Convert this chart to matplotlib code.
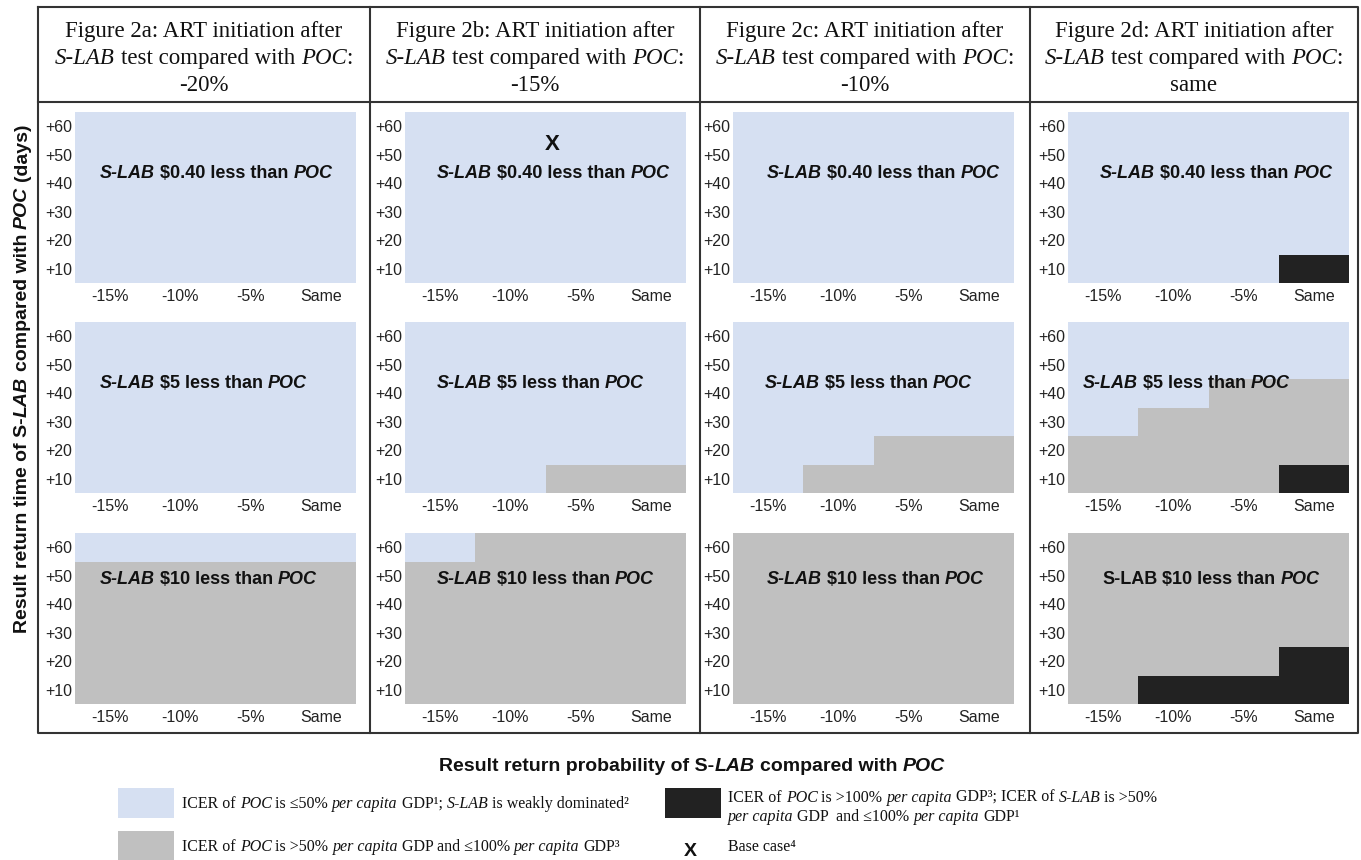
import numpy as np
import matplotlib
matplotlib.use("Agg")
import matplotlib.pyplot as plt
from matplotlib.colors import ListedColormap, BoundaryNorm
from matplotlib.patches import Rectangle

W, H = 1361, 860

SANS = ["Liberation Sans", "DejaVu Sans"]
SERIF = ["Liberation Serif", "DejaVu Serif"]

# ---- data ----
x_labels = ["-15%", "-10%", "-5%", "Same"]
y_labels = ["+10", "+20", "+30", "+40", "+50", "+60"]
fig_ids = ["2a", "2b", "2c", "2d"]
art_drop = ["-20%", "-15%", "-10%", "same"]
cost_gap = ["$0.40", "$5", "$10"]

# 0 = S-LAB weakly dominated, 1 = ICER 50-100% GDP, 2 = ICER >100% GDP
# each grid: rows +60 (top) ... +10 (bottom), columns -15%, -10%, -5%, Same
grid_2a = [
    [[0, 0, 0, 0], [0, 0, 0, 0], [0, 0, 0, 0], [0, 0, 0, 0], [0, 0, 0, 0], [0, 0, 0, 0]],
    [[0, 0, 0, 0], [0, 0, 0, 0], [0, 0, 0, 0], [0, 0, 0, 0], [0, 0, 0, 0], [0, 0, 0, 0]],
    [[0, 0, 0, 0], [1, 1, 1, 1], [1, 1, 1, 1], [1, 1, 1, 1], [1, 1, 1, 1], [1, 1, 1, 1]],
]
grid_2b = [
    [[0, 0, 0, 0], [0, 0, 0, 0], [0, 0, 0, 0], [0, 0, 0, 0], [0, 0, 0, 0], [0, 0, 0, 0]],
    [[0, 0, 0, 0], [0, 0, 0, 0], [0, 0, 0, 0], [0, 0, 0, 0], [0, 0, 0, 0], [0, 0, 1, 1]],
    [[0, 1, 1, 1], [1, 1, 1, 1], [1, 1, 1, 1], [1, 1, 1, 1], [1, 1, 1, 1], [1, 1, 1, 1]],
]
grid_2c = [
    [[0, 0, 0, 0], [0, 0, 0, 0], [0, 0, 0, 0], [0, 0, 0, 0], [0, 0, 0, 0], [0, 0, 0, 0]],
    [[0, 0, 0, 0], [0, 0, 0, 0], [0, 0, 0, 0], [0, 0, 0, 0], [0, 0, 1, 1], [0, 1, 1, 1]],
    [[1, 1, 1, 1], [1, 1, 1, 1], [1, 1, 1, 1], [1, 1, 1, 1], [1, 1, 1, 1], [1, 1, 1, 1]],
]
grid_2d = [
    [[0, 0, 0, 0], [0, 0, 0, 0], [0, 0, 0, 0], [0, 0, 0, 0], [0, 0, 0, 0], [0, 0, 0, 2]],
    [[0, 0, 0, 0], [0, 0, 0, 0], [0, 0, 1, 1], [0, 1, 1, 1], [1, 1, 1, 1], [1, 1, 1, 2]],
    [[1, 1, 1, 1], [1, 1, 1, 1], [1, 1, 1, 1], [1, 1, 1, 1], [1, 1, 1, 2], [1, 2, 2, 2]],
]
grids = [grid_2a, grid_2b, grid_2c, grid_2d]

base_case_panel = (1, 0)          # Figure 2b, $0.40 row
base_case_xy = (1.6, 5.35)        # probability index, return-time index

COLORS = ["#D6E0F2", "#C0C0C0", "#222222"]
cmap = ListedColormap(COLORS)
norm = BoundaryNorm([-0.5, 0.5, 1.5, 2.5], cmap.N)

# ---- layout (pixels, y down) ----
col_left = [75, 405, 733, 1068]
row_top = [112, 322, 533]
pw, ph = 281, 171
col_div = [38, 370, 700, 1030, 1358]
col_mid = [(col_div[i] + col_div[i + 1]) / 2 for i in range(4)]
label_dx = [[25, 25, 25], [32, 32, 32], [34, 32, 34], [32, 15, 34]]

fig = plt.figure(figsize=(W / 100, H / 100), dpi=100)
fig.patch.set_facecolor("white")

for c in range(4):
    for r in range(3):
        ax = fig.add_axes([col_left[c] / W, 1 - (row_top[r] + ph) / H, pw / W, ph / H])
        g = np.array(grids[c][r])[::-1]
        ax.pcolormesh(np.arange(5) - 0.5, np.arange(7) + 0.5, g, cmap=cmap, norm=norm)
        ax.set_xlim(-0.5, 3.5)
        ax.set_ylim(0.5, 6.5)
        ax.set_xticks(range(4))
        ax.set_xticklabels(x_labels, fontfamily=SANS, fontsize=11.5, color="#222222")
        ax.set_yticks(range(1, 7))
        ax.set_yticklabels(y_labels, fontfamily=SANS, fontsize=11.5, color="#222222")
        ax.tick_params(length=0)
        ax.tick_params(axis="x", pad=4)
        ax.tick_params(axis="y", pad=2)
        for s in ax.spines.values():
            s.set_visible(False)
        if (c, r) == base_case_panel:
            ax.text(base_case_xy[0], base_case_xy[1], "X", ha="center", va="center",
                    fontfamily=SANS, fontsize=16, fontweight="bold", color="#111111")

# overlay axis in pixel coordinates for table lines and mixed-style text
bg = fig.add_axes([0, 0, 1, 1])
bg.set_xlim(0, W)
bg.set_ylim(H, 0)
bg.axis("off")
bg.set_zorder(10)
bg.patch.set_visible(False)

renderer = fig.canvas.get_renderer()


def seg_width(s, props):
    t1 = bg.text(0, 0, "|" + s + "|", **props)
    t2 = bg.text(0, 0, "||", **props)
    w = t1.get_window_extent(renderer).width - t2.get_window_extent(renderer).width
    t1.remove()
    t2.remove()
    return w


def rich(x, y, parts, base, ha="left", rotation=0):
    props = [{**base, **st} for _, st in parts]
    widths = [seg_width(s, p) for (s, _), p in zip(parts, props)]
    total = sum(widths)
    cur = -total / 2 if ha == "center" else 0
    for (s, _), p, w in zip(parts, props, widths):
        n = len(s) - len(s.lstrip(" "))
        lead = seg_width(" " * n, p) if n else 0
        off = cur + lead
        if rotation == 0:
            bg.text(x + off, y, s.lstrip(" "), ha="left", va="baseline", **p)
        else:
            bg.text(x, y - off, s.lstrip(" "), ha="left", va="baseline",
                    rotation=90, rotation_mode="anchor", **p)
        cur += w


IT = {"fontstyle": "italic"}
RM = {}
BD = {"fontweight": "bold"}
BI = {"fontweight": "bold", "fontstyle": "italic"}

# table lines
lc = "#333333"
bg.plot([col_div[0], col_div[-1], col_div[-1], col_div[0], col_div[0]],
        [7, 7, 733, 733, 7], color=lc, lw=1.5)
bg.plot([col_div[0], col_div[-1]], [102, 102], color=lc, lw=1.5)
for xd in col_div[1:-1]:
    bg.plot([xd, xd], [7, 733], color=lc, lw=1.5)

# headers
hb = {"fontfamily": SERIF, "fontsize": 16.5, "color": "#111111"}
for c in range(4):
    rich(col_mid[c], 37, [(f"Figure {fig_ids[c]}: ART initiation after", RM)], hb, ha="center")
    rich(col_mid[c], 64, [("S-LAB", IT), (" test compared with ", RM), ("POC", IT), (":", RM)],
         hb, ha="center")
    rich(col_mid[c], 91, [(art_drop[c], RM)], hb, ha="center")

# panel labels
lb = {"fontfamily": SANS, "fontsize": 13, "color": "#111111"}
for c in range(4):
    for r in range(3):
        y0 = row_top[r] + (51 if r == 2 else 66)
        first = BD if (c == 3 and r == 2) else BI
        rich(col_left[c] + label_dx[c][r], y0,
             [("S-LAB", first), (f" {cost_gap[r]} less than ", BD), ("POC", BI)], lb)

# axis titles
tb = {"fontfamily": SANS, "fontsize": 14, "color": "#111111"}
rich(27, 378, [("Result return time of S-", BD), ("LAB", BI), (" compared with ", BD),
               ("POC", BI), (" (days)", BD)], tb, ha="center", rotation=90)
rich(692, 771, [("Result return probability of S-", BD), ("LAB", BI),
                (" compared with ", BD), ("POC", BI)], tb, ha="center")

# legend
bg.add_patch(Rectangle((118, 788), 56, 30, color=COLORS[0], lw=0))
bg.add_patch(Rectangle((118, 831), 56, 30, color=COLORS[1], lw=0))
bg.add_patch(Rectangle((665, 788), 56, 30, color=COLORS[2], lw=0))
bg.text(690, 852, "X", ha="center", va="center", fontfamily=SANS, fontsize=14,
        fontweight="bold", color="#111111")

gb = {"fontfamily": SERIF, "fontsize": 11.5, "color": "#111111"}
rich(182, 808, [("ICER of ", RM), ("POC", IT), (" is \u226450% ", RM), ("per capita", IT),
                (" GDP\u00b9; ", RM), ("S-LAB", IT), (" is weakly dominated\u00b2", RM)], gb)
rich(182, 851, [("ICER of ", RM), ("POC", IT), (" is >50% ", RM), ("per capita", IT),
                (" GDP and \u2264100% ", RM), ("per capita", IT), (" GDP\u00b3", RM)], gb)
rich(728, 802, [("ICER of ", RM), ("POC", IT), (" is >100% ", RM), ("per capita", IT),
                (" GDP\u00b3; ICER of ", RM), ("S-LAB", IT), (" is >50%", RM)], gb)
rich(728, 821, [("per capita", IT), (" GDP  and \u2264100% ", RM), ("per capita", IT),
                (" GDP\u00b9", RM)], gb)
rich(728, 851, [("Base case\u2074", RM)], gb)

fig.savefig("out.png", dpi=100)
